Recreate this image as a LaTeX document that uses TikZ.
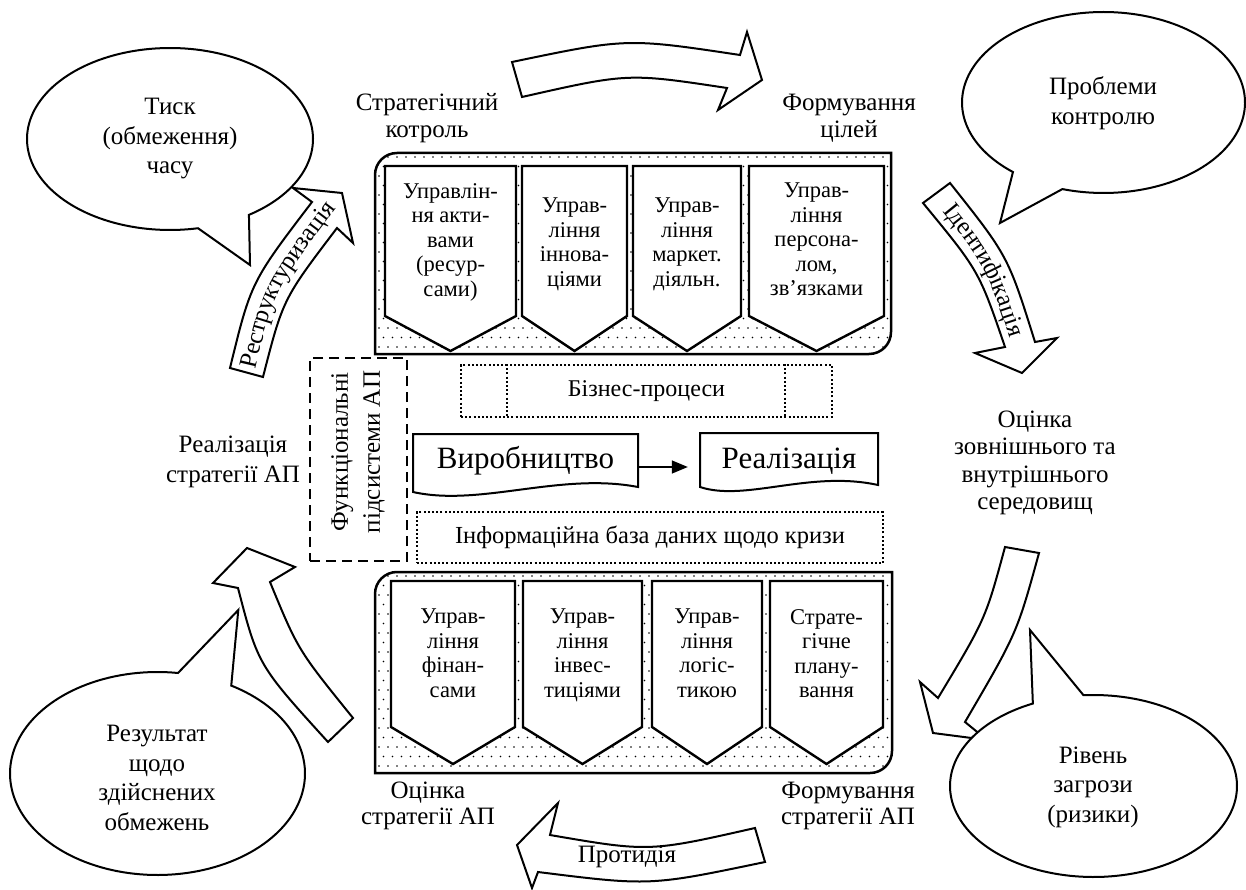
\documentclass[tikz,border=0pt]{standalone}
\usepackage{fontspec}
\setmainfont{Liberation Serif}
\usetikzlibrary{arrows.meta,decorations.text}
\begin{document}
\begin{tikzpicture}[x=1pt,y=-1pt,
  lab/.style={font=\fontsize{25}{27}\selectfont, align=center, inner sep=0pt},
  clab/.style={font=\fontsize{25}{29.5}\selectfont, align=center, inner sep=0pt},
  btxt/.style={font=\fontsize{22.5}{24.5}\selectfont, align=center, inner sep=0pt, anchor=north},
  big/.style={font=\fontsize{31}{36}\selectfont, inner sep=0pt},
  shield/.style={draw, fill=white, line width=2.4pt, line join=miter},
  panelline/.style={draw, line width=2.5pt},
  barrow/.style={draw, fill=white, line width=2pt, line join=miter, miter limit=20},
  callout/.style={draw, fill=white, line width=2pt, line join=miter, miter limit=20},
  dotbox/.style={draw, line width=2pt, dash pattern=on 2pt off 2.2pt, inner sep=0pt},
  dashbox/.style={draw, line width=2.5pt, dash pattern=on 10pt off 6pt},
  docshape/.style={draw, line width=2pt, line join=miter},
  flow/.style={line width=1.4pt, -{Triangle[length=16pt,width=13pt]}},
  alongtext/.style={decorate, decoration={text along path, text align=center, raise=-8pt,
      text={|\fontsize{25}{27}\selectfont|#1}}}
]
\useasboundingbox (0,0) rectangle (1246,890);

% ---------- panels ----------
\def\toppanel{(375,354) -- (375,175) .. controls (375,162.8) and (384.8,153) .. (397,153) -- (891,153) -- (891,332) .. controls (891,344.2) and (881.2,354) .. (869,354) -- cycle}
\def\botpanel{(375,773) -- (375,594) .. controls (375,581.8) and (384.8,572) .. (397,572) -- (892,572) -- (892,751) .. controls (892,763.2) and (882.2,773) .. (870,773) -- cycle}
\begin{scope}
  \clip \toppanel;
  \foreach \j in {0,...,21}{
    \pgfmathsetmacro\off{mod(\j,2)*4.5}
    \foreach \i in {0,...,57}{
      \fill ({379+9*\i+\off},{157+9.5*\j}) circle (0.85pt);
    }
  }
\end{scope}
\begin{scope}
  \clip \botpanel;
  \foreach \j in {0,...,21}{
    \pgfmathsetmacro\off{mod(\j,2)*4.5}
    \foreach \i in {0,...,57}{
      \fill ({379+9*\i+\off},{576+9.5*\j}) circle (0.85pt);
    }
  }
\end{scope}
\draw[panelline] \toppanel;
\draw[panelline] \botpanel;

% top shields
\draw[shield] (385,166) -- (516,166) -- (516,316) -- (450.5,351) -- (385,316) -- cycle;
\draw[shield] (522,166) -- (627,166) -- (627,316) -- (574.5,351) -- (522,316) -- cycle;
\draw[shield] (633,166) -- (741,166) -- (741,316) -- (687,351) -- (633,316) -- cycle;
\draw[shield] (749,166) -- (884,166) -- (884,316) -- (816.5,351) -- (749,316) -- cycle;
\node[btxt] (t1) at (450.5,183) {Управлін-\\ня акти-\\вами\\(ресур-\\сами)};
\node[btxt] (t2) at (574.5,198) {Управ-\\ління\\іннова-\\ціями};
\node[btxt] (t3) at (687,198) {Управ-\\ління\\маркет.\\діяльн.};
\node[btxt] (t4) at (816.5,183) {Управ-\\ління\\персона-\\лом,\\зв’язками};

% bottom shields
\draw[shield] (391,581) -- (515,581) -- (515,727) -- (453,764) -- (391,727) -- cycle;
\draw[shield] (523,581) -- (642,581) -- (642,727) -- (582.5,764) -- (523,727) -- cycle;
\draw[shield] (652,581) -- (762,581) -- (762,727) -- (707,764) -- (652,727) -- cycle;
\draw[shield] (770,581) -- (883,581) -- (883,727) -- (826.5,764) -- (770,727) -- cycle;
\node[btxt] (b1) at (453,609) {Управ-\\ління\\фінан-\\сами};
\node[btxt] (b2) at (582.5,609) {Управ-\\ління\\інвес-\\тиціями};
\node[btxt] (b3) at (707,609) {Управ-\\ління\\логіс-\\тикою};
\node[btxt] (b4) at (826.5,609) {Страте-\\гічне\\плану-\\вання};

% ---------- middle ----------
\node[dotbox, minimum width=371pt, minimum height=52pt, font=\fontsize{24}{28}\selectfont] (biz) at (646.5,391) {Бізнес-процеси};
\draw[line width=2pt, dash pattern=on 2pt off 2.2pt] (biz.north -| 507,0) -- (biz.south -| 507,0);
\draw[line width=2pt, dash pattern=on 2pt off 2.2pt] (biz.north -| 785,0) -- (biz.south -| 785,0);

\node[dotbox, minimum width=466pt, minimum height=51pt, font=\fontsize{24.5}{28}\selectfont] (info) at (650,537.5) {Інформаційна база даних щодо кризи};

\node[dashbox, minimum width=97pt, minimum height=203pt] (funcbox) at (358.5,459.5) {};
\node[font=\fontsize{25}{32}\selectfont, align=center, inner sep=0pt, rotate=90] (func) at (358,452) {Функціональні\\підсистеми АП};

\draw[docshape] (413,492) -- (413,434) -- (638,434) -- (638,487) .. controls (560,472) and (480,507) .. (413,492) -- cycle;
\draw[docshape] (700,487) -- (700,433) -- (878,433) -- (878,485) .. controls (810,470) and (745,502) .. (700,487) -- cycle;
\node[big, minimum width=225pt, minimum height=50pt] (vyr) at (525.5,461) {Виробництво};
\node[big, minimum width=178pt, minimum height=50pt] (real) at (789,461) {Реалізація};
\draw[flow, shorten >=12pt] ([yshift=-6pt]vyr.east) -- ([yshift=-6pt]real.west);

% ---------- labels ----------
\node[lab] (strat) at (427,118) {Стратегічний\\котроль};
\node[lab] (form) at (849,118) {Формування\\цілей};
\node[lab, font=\fontsize{25}{27.5}\selectfont] (ocin) at (1035,463) {Оцінка\\зовнішнього та\\внутрішнього\\середовищ};
\node[lab, font=\fontsize{25}{30}\selectfont] (realiz) at (233,462) {Реалізація\\стратегії АП};
\node[lab, font=\fontsize{25}{26}\selectfont] (ocst) at (428,806) {Оцінка\\стратегії АП};
\node[lab, font=\fontsize{25}{26}\selectfont] (formst) at (848,806) {Формування\\стратегії АП};

% ---------- block arrows ----------
% top
\draw[barrow] (512,62) .. controls (627,38) .. (740,55) -- (747,32) -- (762,80) -- (718,110) -- (727,88) .. controls (628,73) .. (522,97) -- cycle;
% restructuring
\draw[barrow] (230,368) .. controls (251,282) .. (312,202) -- (293,188) -- (342,193) -- (353,243) -- (337,228) .. controls (283,299) .. (263,377) -- cycle;
\path[alongtext={Реструктуризація}] (246,374) .. controls (266,288) .. (334,198);
% identification
\draw[barrow] (923,203) .. controls (979,271) .. (1005,347) -- (975,353) -- (1022,373) -- (1057,338) -- (1035,342) .. controls (1008,256) .. (950,183) -- cycle;
\path[alongtext={Ідентифікація}] (935,190) .. controls (994,262) .. (1024,356);
% right-bottom
\draw[barrow] (1005,547) .. controls (985.5,619) .. (938,698) -- (920,682) -- (933,733) -- (987,740) -- (965,722) .. controls (1017,633) .. (1039,553) -- cycle;
% bottom-left
\draw[barrow] (328,742) .. controls (258,665) .. (238,588) -- (213,583) -- (247,548) -- (295,567) -- (270,582) .. controls (298,650) .. (353,718) -- cycle;
% bottom
\draw[barrow] (517,845) -- (558,803) -- (550,835) .. controls (649,852) .. (755,828) -- (765,862) .. controls (650,886) .. (538,872) -- (532,888) -- cycle;
\node[lab] (prot) at (627,857) {Протидія};

% ---------- callouts ----------
\draw[callout] plot[domain=78.7:416.5, samples=150] ({170+143*cos(\x)},{139+91*sin(\x)}) -- (250,265) -- cycle;
\node[clab] (tisk) at (170,139) {Тиск\\(обмеження)\\часу};

\draw[callout] plot[domain=129.8:466.9, samples=150] ({1103.5+141.5*cos(\x)},{102.5+90.5*sin(\x)}) -- (1000,223) -- cycle;
\node[clab] (probl) at (1103,103) {Проблеми\\контролю};

\draw[callout] plot[domain=266:605, samples=150] ({1093.5+143.5*cos(\x)},{786+91*sin(\x)}) -- (1030,630) -- cycle;
\node[clab] (riven) at (1093,787) {Рівень\\загрози\\(ризики)};

\draw[callout] plot[domain=300:638, samples=150] ({157.5+147.5*cos(\x)},{773.5+101.5*sin(\x)}) -- (238.3,610) -- cycle;
\node[clab] (rezult) at (157,778) {Результат\\щодо\\здійснених\\обмежень};
\end{tikzpicture}
\end{document}
